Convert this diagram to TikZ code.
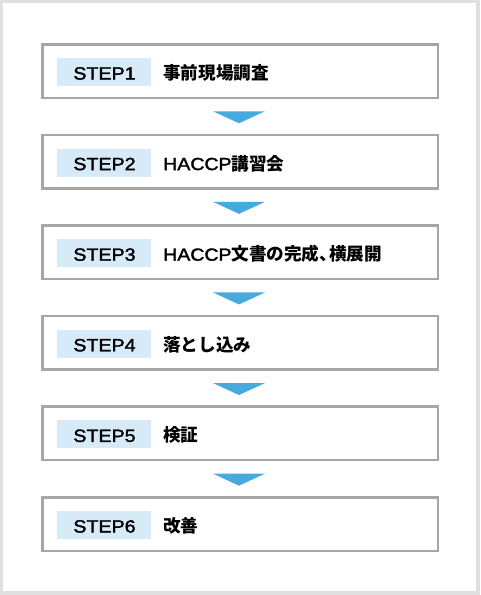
\documentclass[tikz,border=0pt]{standalone}
\usepackage{fontspec}
\usetikzlibrary{calc}
\newfontfamily\jp{Noto Sans CJK JP}
\newfontfamily\lat{Liberation Sans}[FakeStretch=1.11,FakeBold=1.8]
\definecolor{framegray}{HTML}{E0E0E0}
\definecolor{boxgray}{HTML}{A6A6A6}
\definecolor{labelblue}{HTML}{D6EAF7}
\definecolor{arrowblue}{HTML}{47AADF}
\newcommand{\jpt}[1]{{\jp\bfseries #1}}
\newcommand{\lt}[1]{{\lat #1}}
\begin{document}
\begin{tikzpicture}[x=1pt,y=-1pt,
  stepbox/.style={draw=boxgray,line width=2.5pt,fill=white,minimum width=395.5pt,minimum height=53.5pt,inner sep=0pt},
  steplabel/.style={fill=labelblue,minimum width=94pt,minimum height=28pt,inner sep=0pt},
  steptext/.style={anchor=base west,inner sep=0pt,font=\fontsize{17.6}{20}\selectfont},
  stepnum/.style={anchor=base,inner sep=0pt,font=\lat\fontsize{17.7}{20}\selectfont},
  flowarrow/.style={fill=arrowblue,draw=none}]
\useasboundingbox (0,0) rectangle (480,595);
\fill[framegray] (0,0) rectangle (480,595);
\fill[white] (3,3) rectangle (476,591);
\foreach \i/\t in {1/\jpt{事前現場調査},2/\lt{HACCP}\jpt{講習会},3/\lt{HACCP}\jpt{文書の完成、\kern-0.45em横展開},4/\jpt{落とし込み},5/\jpt{検証},6/\jpt{改善}}{
  \pgfmathsetmacro{\yc}{71+90.6*(\i-1)}
  \node[stepbox] (box\i) at (240,\yc) {};
  \node[steplabel] (lab\i) at (104,\yc+1) {};
  \node[stepnum] (num\i) at (104.5,\yc+8.5) {STEP\i};
  \node[steptext] (txt\i) at (163,\yc+8.5) {\t};
}
\foreach \i [evaluate=\i as \j using int(\i+1)] in {1,...,5}{
  \coordinate (tip\i) at ($(box\i.south)+(-1,24.25)$);
  \fill[flowarrow] ($(tip\i)+(-26,-12)$) -- ($(tip\i)+(26,-12)$) -- (tip\i) -- cycle;
}
\end{tikzpicture}
\end{document}
